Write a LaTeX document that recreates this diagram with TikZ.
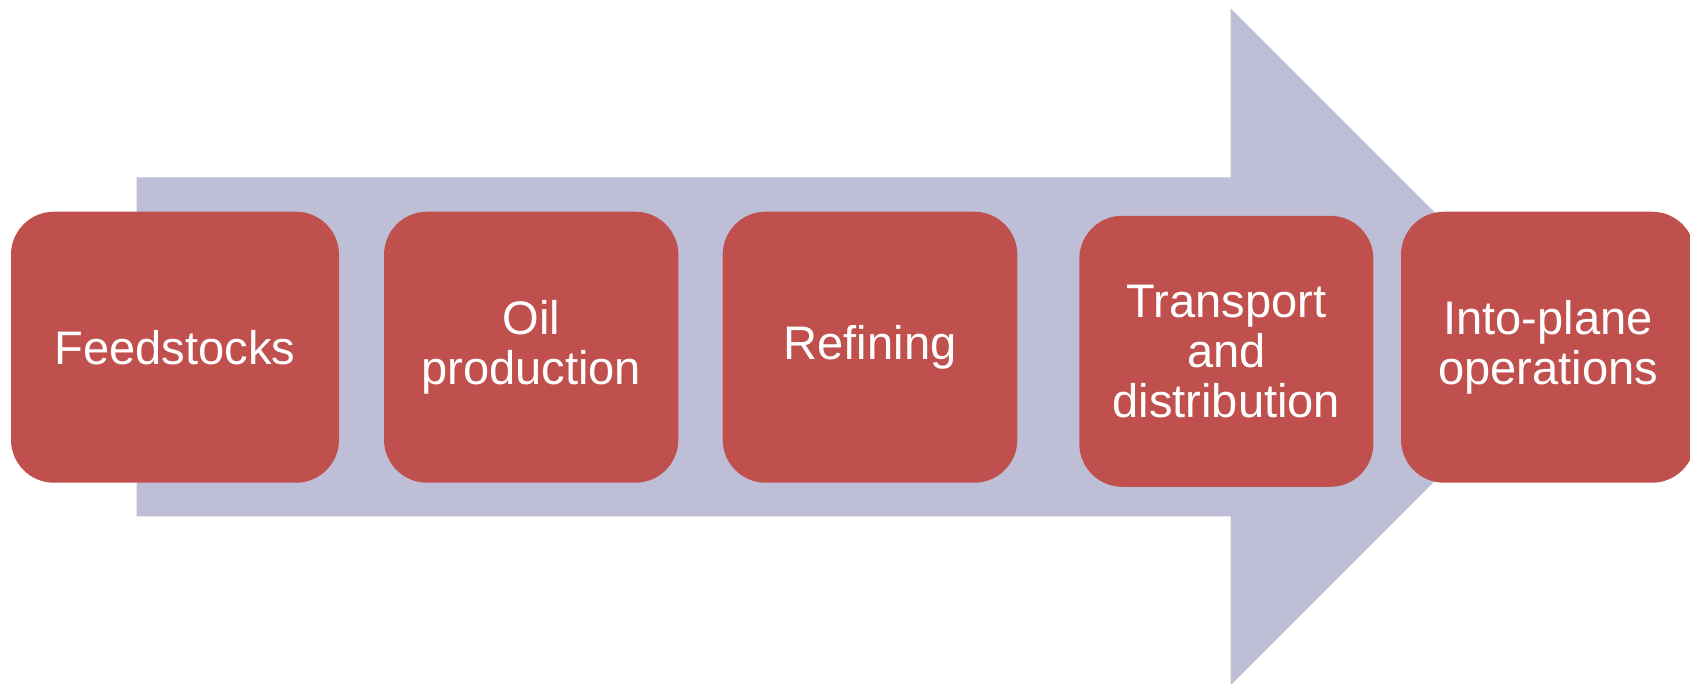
\documentclass[tikz,border=0pt]{standalone}
\usepackage{fontspec}
\setmainfont{Liberation Sans}
\definecolor{stagered}{RGB}{192,80,77}
\definecolor{flowblue}{RGB}{190,191,214}
\tikzset{
  stage/.style={rectangle, rounded corners=0.43cm, fill=stagered, text=white,
    minimum height=2.71cm, inner sep=0pt, align=center,
    font=\fontsize{13.4}{14.2}\selectfont}
}
\begin{document}
\begin{tikzpicture}
      \useasboundingbox (0,0) rectangle (16.9,6.83);
      % big background arrow
      \fill[flowblue] (1.367,1.667) -- (1.367,5.057) -- (12.307,5.057) -- (12.307,6.747)
        -- (15.69,3.362) -- (12.307,-0.02) -- (12.307,1.667) -- cycle;
      \node[stage,minimum width=3.28cm] (feed) at (1.75,3.358) {Feedstocks};
      \node[stage,minimum width=2.943cm] (oil) at (5.312,3.358) {Oil\\production};
      \node[stage,minimum width=2.946cm] (refine) at (8.70,3.358) {Refining};
      \node[stage,minimum width=2.94cm] (transport) at (12.263,3.317) {Transport\\and\\distribution};
      \node[stage,minimum width=2.94cm] (intoplane) at (15.48,3.358) {Into-plane\\operations};
    \end{tikzpicture}
\end{document}
